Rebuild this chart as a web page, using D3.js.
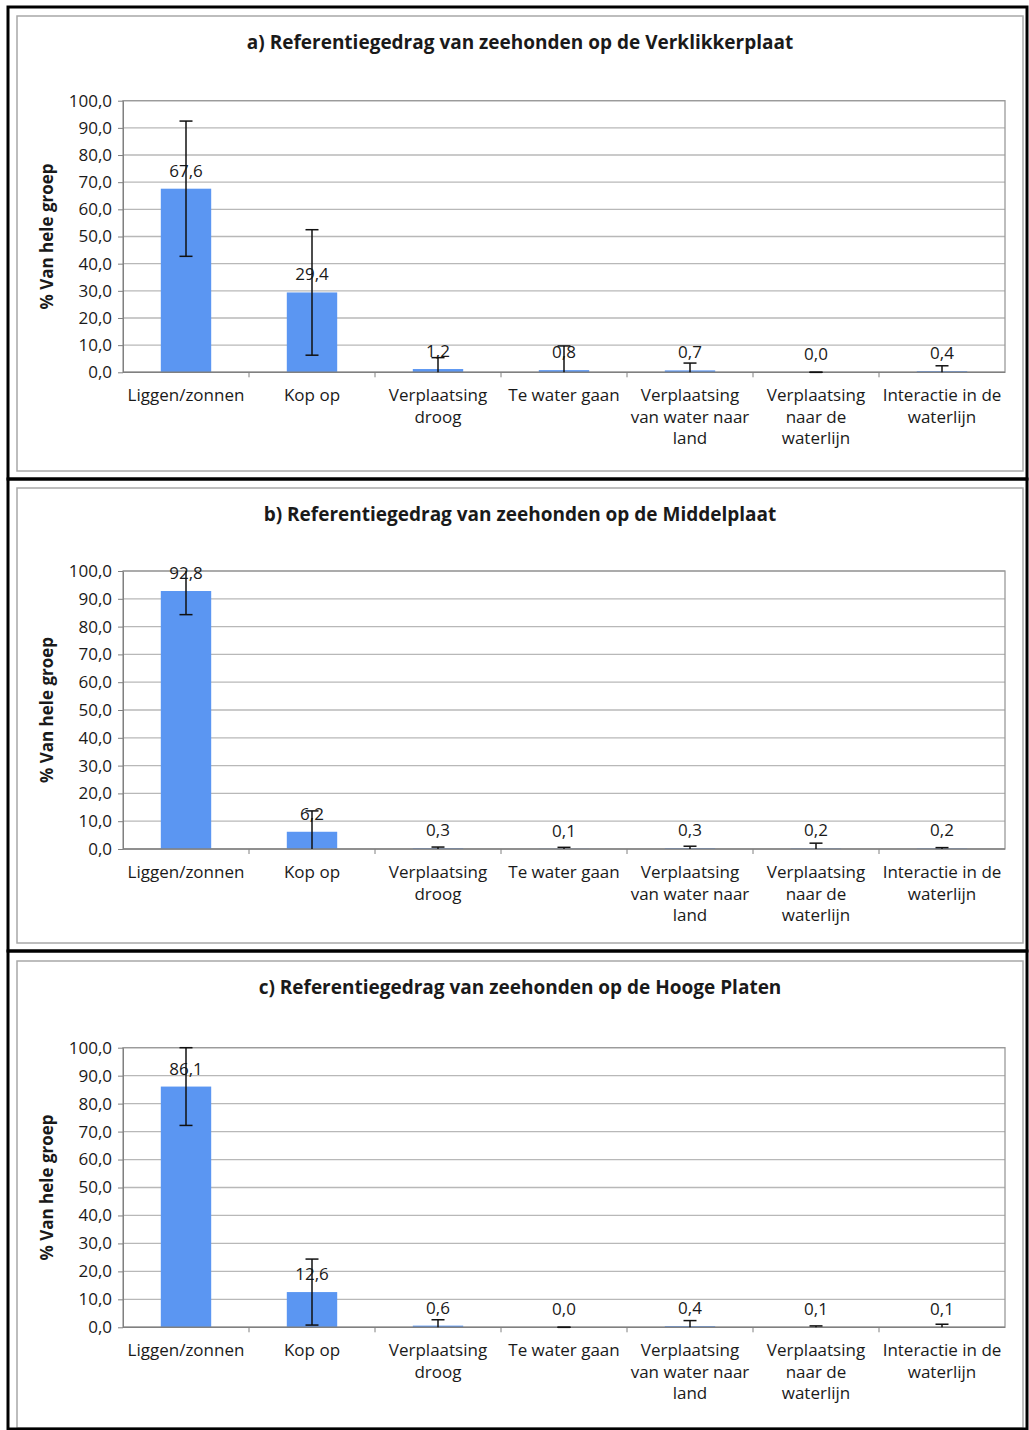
<!DOCTYPE html>
<html>
<head>
<meta charset="utf-8">
<script src="https://cdn.jsdelivr.net/npm/d3@7"></script>
<style>
  body { margin: 0; background: #fff; }
  text { font-family: "Open Sans", sans-serif; fill: #1a1a1a; }
</style>
</head>
<body>
<div id="chart"></div>
<script>
// categories, wrapped the way the original axis wraps them
const categories = [
  ["Liggen/zonnen"],
  ["Kop op"],
  ["Verplaatsing", "droog"],
  ["Te water gaan"],
  ["Verplaatsing", "van water naar", "land"],
  ["Verplaatsing", "naar de", "waterlijn"],
  ["Interactie in de", "waterlijn"]
];
const titles = [
  "a) Referentiegedrag van zeehonden op de Verklikkerplaat",
  "b) Referentiegedrag van zeehonden op de Middelplaat",
  "c) Referentiegedrag van zeehonden op de Hooge Platen"
];
const verklikkerValues = [67.6, 29.4, 1.2, 0.8, 0.7, 0.0, 0.4];
const verklikkerErrors = [24.9, 23.1, 4.2, 8.9, 2.7, 0.0, 2.0];
const middelplaatValues = [92.8, 6.2, 0.3, 0.1, 0.3, 0.2, 0.2];
const middelplaatErrors = [8.5, 7.5, 0.4, 0.5, 0.7, 1.9, 0.3];
const hoogeValues = [86.1, 12.6, 0.6, 0.0, 0.4, 0.1, 0.1];
const hoogeErrors = [13.9, 11.8, 2.1, 0.0, 2.0, 0.4, 1.0];
const yTicks = [0, 10, 20, 30, 40, 50, 60, 70, 80, 90, 100];
const yLabel = "% Van hele groep";

const nl = d3.formatLocale({ decimal: ",", thousands: ".", grouping: [3], currency: ["€", ""] });
const fmt = nl.format(".1f");

const svg = d3.select("#chart").append("svg")
  .attr("width", 1029)
  .attr("height", 1430);

class BarPanel {
  constructor(svg, layout, title, values, errors) {
    this.svg = svg;
    this.layout = layout;
    this.title = title;
    this.values = values;
    this.errors = errors;
    this.initVis();
  }

  initVis() {
    let vis = this;
    let L = vis.layout;
    vis.g = vis.svg.append("g");

    // grey chart-area box, then black frame round the panel
    vis.g.append("rect")
      .attr("x", 17).attr("y", L.boxTop)
      .attr("width", 1006).attr("height", L.boxBottom - L.boxTop)
      .attr("fill", "#fff").attr("stroke", "#a8a8a8").attr("stroke-width", 1.5);

    vis.g.append("text")
      .attr("x", 520).attr("y", L.boxTop + 33)
      .attr("text-anchor", "middle")
      .attr("font-size", 19).attr("font-weight", "bold")
      .text(vis.title);

    vis.x = d3.scaleBand()
      .domain(d3.range(categories.length))
      .range([123, 1005])
      .paddingInner(0.6)
      .paddingOuter(0.3);
    vis.y = d3.scaleLinear().domain([0, 100]).range([L.plotBottom, L.plotTop]);

    // gridlines
    vis.g.append("g").selectAll("line")
      .data(yTicks.slice(1))
      .join("line")
      .attr("x1", 123).attr("x2", 1005)
      .attr("y1", d => vis.y(d)).attr("y2", d => vis.y(d))
      .attr("stroke", "#b8b8b8").attr("stroke-width", 1.3);

    vis.g.append("rect")
      .attr("x", 123).attr("y", L.plotTop)
      .attr("width", 882).attr("height", L.plotBottom - L.plotTop)
      .attr("fill", "none").attr("stroke", "#9a9a9a").attr("stroke-width", 1.3);

    let yAxis = vis.g.append("g")
      .attr("transform", "translate(123,0)")
      .call(d3.axisLeft(vis.y).tickValues(yTicks).tickFormat(fmt).tickSize(5).tickPadding(6).tickSizeOuter(0));
    yAxis.select(".domain").attr("stroke", "#808080");
    yAxis.selectAll(".tick line").attr("stroke", "#808080");
    yAxis.selectAll("text").attr("font-size", 17).attr("fill", "#1a1a1a").attr("font-family", "Open Sans");

    vis.g.append("text")
      .attr("transform", `translate(53,${(L.plotTop + L.plotBottom) / 2}) rotate(-90)`)
      .attr("text-anchor", "middle")
      .attr("font-size", 17).attr("font-weight", "bold")
      .text(yLabel);

    let step = vis.x.step();
    let bw = vis.x.bandwidth();
    let cx = i => vis.x(i) + bw / 2;

    // bars
    vis.g.append("g").selectAll("rect")
      .data(vis.values)
      .join("rect")
      .attr("x", (d, i) => vis.x(i))
      .attr("width", bw)
      .attr("y", d => vis.y(d))
      .attr("height", d => Math.max(vis.y(0) - vis.y(d), 0))
      .attr("fill", "#5b96f2");

    // x axis line and category boundary ticks
    vis.g.append("line")
      .attr("x1", 123).attr("x2", 1005)
      .attr("y1", vis.y(0)).attr("y2", vis.y(0))
      .attr("stroke", "#808080").attr("stroke-width", 1.5);
    vis.g.append("g").selectAll("line")
      .data(d3.range(1, categories.length))
      .join("line")
      .attr("x1", i => vis.x(i) - step * 0.3).attr("x2", i => vis.x(i) - step * 0.3)
      .attr("y1", vis.y(0)).attr("y2", vis.y(0) + 5)
      .attr("stroke", "#808080");

    // data labels
    vis.g.append("g").selectAll("text")
      .data(vis.values)
      .join("text")
      .attr("x", (d, i) => cx(i))
      .attr("y", d => vis.y(d) - 12)
      .attr("text-anchor", "middle")
      .attr("font-size", 17)
      .text(d => fmt(d));

    // error bars, clipped to the plot like Excel does
    let eb = vis.g.append("g").attr("stroke", "#111").attr("stroke-width", 1.5);
    vis.values.forEach((v, i) => {
      let hi = Math.min(v + vis.errors[i], 100);
      let lo = Math.max(v - vis.errors[i], 0);
      eb.append("line")
        .attr("x1", cx(i)).attr("x2", cx(i))
        .attr("y1", vis.y(hi)).attr("y2", vis.y(lo));
      if (v + vis.errors[i] <= 100) {
        eb.append("line").attr("x1", cx(i) - 6.5).attr("x2", cx(i) + 6.5)
          .attr("y1", vis.y(hi)).attr("y2", vis.y(hi));
      }
      if (v - vis.errors[i] >= 0) {
        eb.append("line").attr("x1", cx(i) - 6.5).attr("x2", cx(i) + 6.5)
          .attr("y1", vis.y(lo)).attr("y2", vis.y(lo));
      }
    });

    // category labels
    let cl = vis.g.append("g").selectAll("text")
      .data(categories)
      .join("text")
      .attr("x", (d, i) => cx(i))
      .attr("y", vis.y(0) + 29)
      .attr("text-anchor", "middle")
      .attr("font-size", 17);
    cl.selectAll("tspan")
      .data(d => d)
      .join("tspan")
      .attr("x", function () { return d3.select(this.parentNode).attr("x"); })
      .attr("dy", (d, j) => j === 0 ? 0 : 21.5)
      .text(d => d);

    vis.g.append("rect")
      .attr("x", 8).attr("y", L.frameTop)
      .attr("width", 1019).attr("height", L.frameBottom - L.frameTop)
      .attr("fill", "none").attr("stroke", "#000").attr("stroke-width", 3);
  }
}

const layouts = [
  { frameTop: 7, frameBottom: 479, boxTop: 16, boxBottom: 471, plotTop: 100.7, plotBottom: 372.3 },
  { frameTop: 479, frameBottom: 951, boxTop: 488, boxBottom: 943, plotTop: 571, plotBottom: 849 },
  { frameTop: 951, frameBottom: 1429, boxTop: 961, boxBottom: 1428, plotTop: 1047.7, plotBottom: 1327.3 }
];

new BarPanel(svg, layouts[0], titles[0], verklikkerValues, verklikkerErrors);
new BarPanel(svg, layouts[1], titles[1], middelplaatValues, middelplaatErrors);
new BarPanel(svg, layouts[2], titles[2], hoogeValues, hoogeErrors);
</script>
</body>
</html>
